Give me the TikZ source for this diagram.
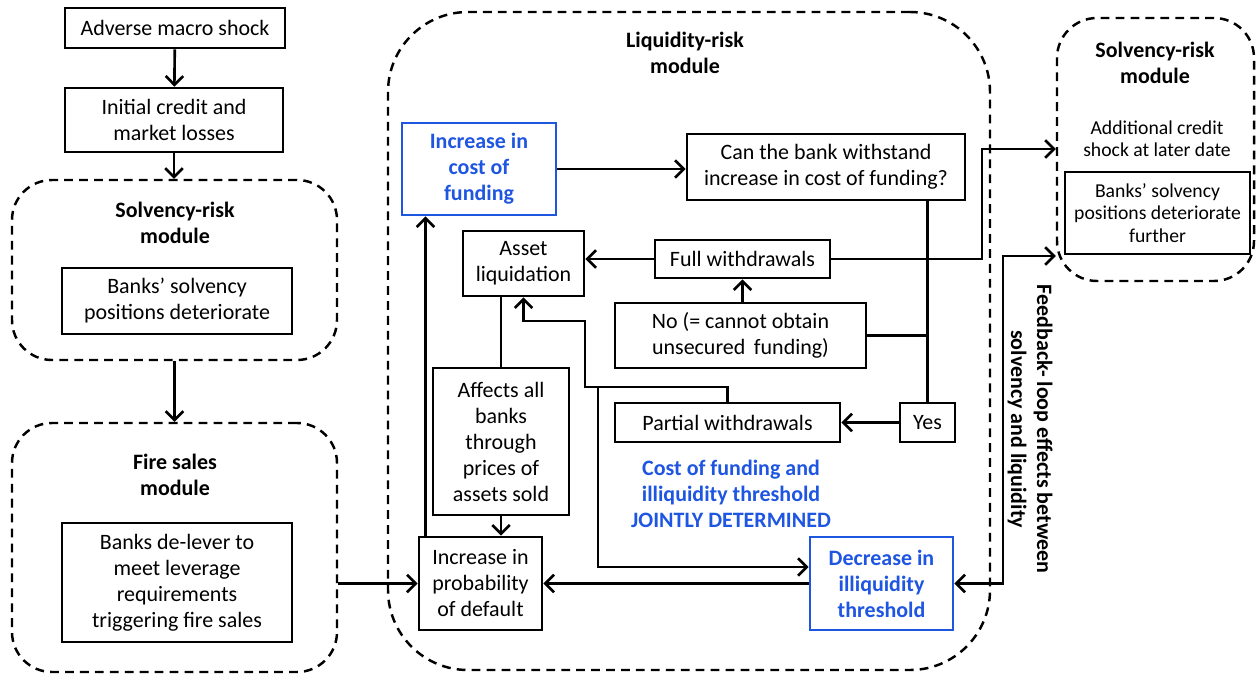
\documentclass[tikz,border=0pt]{standalone}
\usepackage{fontspec}
\setmainfont{Carlito}
\usepackage{xcolor}
\usetikzlibrary{arrows.meta}
\definecolor{fundblue}{RGB}{30,85,225}

\begin{document}
\begin{tikzpicture}[
  >={Straight Barb[length=5pt,width=10pt]},
  font=\fontsize{12.5}{14.8}\selectfont,
  link/.style={line width=1.5pt},
  box/.style={draw,line width=1.5pt,align=center,inner sep=2pt},
  bluebox/.style={box,draw=fundblue,text=fundblue,font=\fontsize{12.5}{14.8}\selectfont\bfseries},
  module/.style={draw,line width=1.4pt,dash pattern=on 5pt off 3.5pt},
  title/.style={align=center,font=\fontsize{12.5}{14.8}\selectfont\bfseries},
  small/.style={font=\fontsize{11.2}{12.8}\selectfont}]
\useasboundingbox (0,0) rectangle (25.12,-13.54);

\node[box,minimum width=4.4cm,minimum height=0.8cm] (shock) at (3.5,-0.56) {Adverse macro shock};
\node[box,minimum width=4.36cm,minimum height=1.28cm] (losses) at (3.48,-2.4) {Initial credit and\\market losses};

\node[module,minimum width=6.5cm,minimum height=3.6cm,rounded corners=0.8cm] (solvL) at (3.49,-5.4) {};
\node[title] (solvLtitle) at (3.5,-4.46) {Solvency-risk\\module};
\node[box,minimum width=4.6cm,minimum height=1.32cm] (solvLbox) at (3.54,-6.02) {Banks’ solvency\\positions deteriorate};

\node[module,minimum width=6.5cm,minimum height=4.98cm,rounded corners=0.8cm] (fire) at (3.49,-10.95) {};
\node[title] (firetitle) at (3.5,-9.5) {Fire sales\\module};
\node[box,minimum width=4.6cm,minimum height=2.38cm] (firebox) at (3.54,-11.65) {Banks de-lever to\\meet leverage\\requirements\\triggering fire sales};

\node[module,minimum width=12.04cm,minimum height=13.16cm,rounded corners=1.6cm] (liq) at (13.78,-6.82) {};
\node[title] (liqtitle) at (13.7,-1.06) {Liquidity-risk\\module};

\node[bluebox,minimum width=3.08cm,minimum height=1.84cm] (cost) at (9.58,-3.38) {Increase in\\cost of\\funding};
\node[box,minimum width=5.56cm,minimum height=1.32cm] (withstand) at (16.52,-3.34) {Can the bank withstand\\increase in cost of funding?};
\node[box,minimum width=2.42cm,minimum height=1.3cm] (assetliq) at (10.47,-5.27) {Asset\\liquidation};
\node[box,minimum width=3.5cm,minimum height=0.76cm] (fullw) at (14.85,-5.18) {Full withdrawals};
\node[box,minimum width=5.02cm,minimum height=1.3cm] (nofund) at (14.81,-6.71) {No (= cannot obtain\\unsecured\ \,funding)};
\node[box,minimum width=2.72cm,minimum height=2.94cm] (affects) at (10.02,-8.83) {Affects all\\banks\\through\\prices of\\assets sold};
\node[box,minimum width=4.5cm,minimum height=0.78cm] (partial) at (14.55,-8.45) {Partial withdrawals};
\node[box,minimum width=1.1cm,minimum height=0.78cm] (yes) at (18.55,-8.45) {Yes};
\node[title,text=fundblue] (jointly) at (14.62,-9.88) {Cost of funding and\\illiquidity threshold\\JOINTLY DETERMINED};
\node[box,minimum width=2.46cm,minimum height=1.86cm] (probdef) at (9.61,-11.67) {Increase in\\probability\\of default};
\node[bluebox,minimum width=2.86cm,minimum height=1.86cm] (illiq) at (17.63,-11.67) {Decrease in\\illiquidity\\threshold};

\node[module,minimum width=3.94cm,minimum height=5.26cm,rounded corners=0.8cm] (solvR) at (23.11,-2.99) {};
\node[title] (solvRtitle) at (23.1,-1.25) {Solvency-risk\\module};
\node[small,align=center] (addshock) at (23.14,-2.77) {Additional credit\\shock at later date};
\node[box,small,minimum width=3.7cm,minimum height=1.64cm] (solvRbox) at (23.15,-4.26) {Banks’ solvency\\positions deteriorate\\further};

\node[title,rotate=-90] (fbtext) at (20.6,-8.58) {Feedback- loop effects between\\solvency and liquidity};

\draw[link,->] (shock) -- (losses);
\draw[link,->] (losses.south) -- (losses.south |- solvL.north);
\draw[link,->] (solvL) -- (fire);
\draw[link,->] (probdef.west -| fire.east) -- (probdef.west);

\draw[link,->] (cost.east) -- (cost.east -| withstand.west);
\draw[link] (yes.north) -- (yes.north |- withstand.south);
\draw[link] (nofund.east) -- (nofund.east -| yes.north);
\draw[link,->] (yes) -- (partial);
\draw[link,->] (fullw.south |- nofund.north) -- (fullw.south);
\draw[link,->] (fullw.west) -- (fullw.west -| assetliq.east);
\draw[link] (assetliq.south -| affects.north) -- (affects.north);
\draw[link,->] (affects.south) -- (affects.south |- probdef.north);
\draw[link,->] ([xshift=-1.1cm]probdef.north) -- ([xshift=-1.1cm]probdef.north |- cost.south);
\draw[link,->] (illiq) -- (probdef);

\coordinate (pwa) at (11.7,-7.74);
\coordinate (pwb) at (10.47,-6.42);
\coordinate (pwc) at (11.96,-7.74);
\draw[link,->] (partial.north) |- (pwa) |- (pwb) -- (assetliq.south);
\draw[link,->] (pwc) |- ([yshift=0.33cm]illiq.west);

\coordinate (fwturn) at (19.64,-2.98);
\coordinate (fbturn) at (20.06,-5.12);
\draw[link,->] (fullw.east) -| (fwturn) -- (fwturn -| solvR.west);
\draw[link,<->] (illiq.east) -| (fbturn) -- (fbturn -| solvR.west);
\end{tikzpicture}
\end{document}
